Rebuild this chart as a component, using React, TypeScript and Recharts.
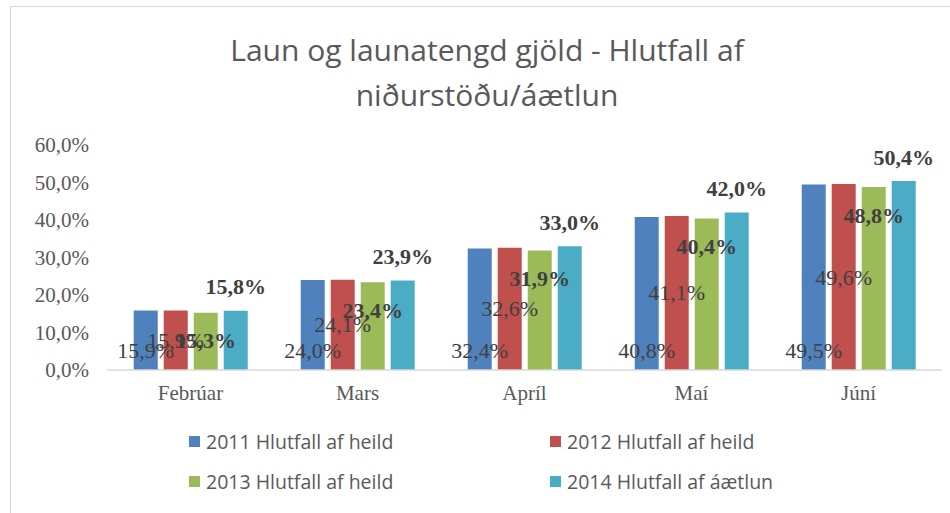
import { BarChart, Bar, XAxis, YAxis, LabelList } from "recharts";

const months = ["Febrúar", "Mars", "Apríl", "Maí", "Júní"];
const s2011 = [15.9, 24.0, 32.4, 40.8, 49.5];
const s2012 = [15.9, 24.1, 32.6, 41.1, 49.6];
const s2013 = [15.3, 23.4, 31.9, 40.4, 48.8];
const s2014 = [15.8, 23.9, 33.0, 42.0, 50.4];
const yTicks = [0, 10, 20, 30, 40, 50, 60];

const seriesKeys = ["s2011", "s2012", "s2013", "s2014"];
const seriesNames = [
  "2011 Hlutfall af heild",
  "2012 Hlutfall af heild",
  "2013 Hlutfall af heild",
  "2014 Hlutfall af áætlun",
];
const seriesColors = ["#4F81BD", "#C0504D", "#9BBB59", "#4BACC6"];

const data = months.map((month, i) => ({
  month,
  s2011: s2011[i],
  s2012: s2012[i],
  s2013: s2013[i],
  s2014: s2014[i],
}));

const pct = (v: number) => v.toFixed(1).replace(".", ",") + "%";

const serif = "'Liberation Serif', 'Times New Roman', serif";
const sans = "'Open Sans', 'Noto Sans', sans-serif";
const labelColor = "#404040";

// each series puts its value label somewhere else, like the excel original
type LabelPos = "base" | "center" | "insideTop" | "top";
const labelPos: LabelPos[] = ["base", "center", "insideTop", "top"];

function makeLabel(pos: LabelPos) {
  return (props: any) => {
    const { x, y, width, height, value } = props;
    const cx = Number(x) + Number(width) / 2;
    let cy = Number(y) + Number(height) / 2;
    if (pos === "base") cy = Number(y) + Number(height) - 20;
    if (pos === "insideTop") cy = Number(y) + 28;
    if (pos === "top") cy = Number(y) - 24;
    const bold = pos === "insideTop" || pos === "top";
    return (
      <text
        x={cx}
        y={cy}
        textAnchor="middle"
        dominantBaseline="central"
        fill={labelColor}
        style={{ fontFamily: serif, fontSize: 22, fontWeight: bold ? 700 : 400 }}
      >
        {pct(Number(value))}
      </text>
    );
  };
}

export default function App() {
  return (
    <div
      style={{
        position: "absolute",
        left: 0,
        top: 0,
        width: 950,
        height: 513,
        overflow: "hidden",
        background: "#fff",
      }}
    >
      <div
        style={{
          position: "absolute",
          left: 10,
          top: 6,
          width: 980,
          height: 540,
          border: "1.5px solid #d9d9d9",
        }}
      />
      <div
        style={{
          position: "absolute",
          left: 87,
          width: 800,
          top: 27,
          textAlign: "center",
          fontFamily: sans,
          fontSize: 30,
          lineHeight: "45px",
          color: "#595959",
        }}
      >
        Laun og launatengd gjöld - Hlutfall af
        <br />
        niðurstöðu/áætlun
      </div>
      <div style={{ position: "absolute", left: 0, top: 0 }}>
        <BarChart
          width={950}
          height={513}
          data={data}
          margin={{ top: 145, right: 8, bottom: 103, left: 0 }}
          barCategoryGap="16%"
          barGap={6}
        >
          <XAxis
            dataKey="month"
            height={40}
            axisLine={{ stroke: "#d9d9d9", strokeWidth: 1.5 }}
            tickLine={false}
            tickMargin={9}
            tick={{ fill: "#595959", fontSize: 21, fontFamily: serif }}
          />
          <YAxis
            width={107}
            domain={[0, 60]}
            ticks={yTicks}
            interval={0}
            axisLine={false}
            tickLine={false}
            tickMargin={12}
            tickFormatter={(v: number) => pct(v)}
            tick={{ fill: "#595959", fontSize: 21, fontFamily: serif }}
          />
          {seriesKeys.map((key, i) => (
            <Bar
              key={key}
              dataKey={key}
              name={seriesNames[i]}
              fill={seriesColors[i]}
              isAnimationActive={false}
            >
              <LabelList dataKey={key} content={makeLabel(labelPos[i])} />
            </Bar>
          ))}
        </BarChart>
      </div>
      <div
        style={{
          position: "absolute",
          left: 189,
          top: 427,
          width: 660,
          display: "grid",
          gridTemplateColumns: "361px 280px",
          rowGap: 12,
          fontFamily: sans,
          fontSize: 19.5,
          color: "#595959",
        }}
      >
        {seriesNames.map((name, i) => (
          <div key={name} style={{ display: "flex", alignItems: "center", height: 28 }}>
            <span
              style={{
                display: "inline-block",
                width: 11,
                height: 11,
                background: seriesColors[i],
                marginRight: 6,
              }}
            />
            {name}
          </div>
        ))}
      </div>
    </div>
  );
}
